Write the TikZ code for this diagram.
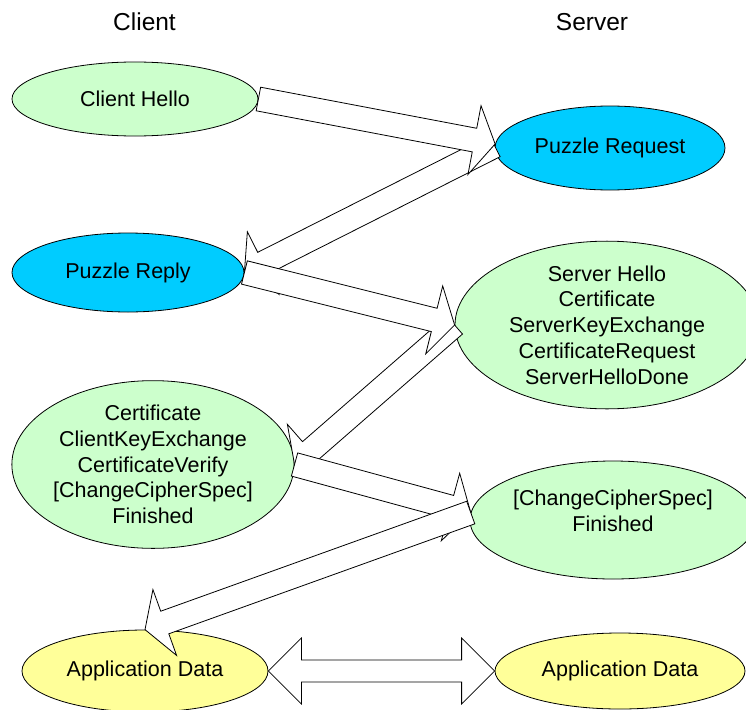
\documentclass[tikz,border=0pt]{standalone}
\usepackage{fontspec}
\setmainfont{Liberation Sans}
\usetikzlibrary{shapes.geometric,calc}

\definecolor{mint}{HTML}{CCFFCC}
\definecolor{sky}{HTML}{00CCFF}
\definecolor{cream}{HTML}{FFFF99}

\tikzset{
  msg/.style={ellipse, draw=black, line width=0.8pt, inner sep=0pt, align=center,
              font=\fontsize{21.5}{25.7}\selectfont},
  greenmsg/.style={msg, fill=mint},
  bluemsg/.style={msg, fill=sky},
  yellowmsg/.style={msg, fill=cream},
  msgtext/.style={align=center, inner sep=0pt, font=\fontsize{21.5}{25.7}\selectfont},
  party/.style={inner sep=0pt, font=\fontsize{24.5}{29}\selectfont},
  fat/.style={draw=black, fill=white, line width=0.8pt, line join=miter}
}

% hollow block arrow: #1 tail, #2 tip, #3 half shaft width, #4 half head width, #5 head length
\newcommand\flowarrow[5]{%
  \coordinate (fb) at ($(#2)!#5!(#1)$);
  \path[fat] ($(#1)!#3!90:(#2)$) -- ($(fb)!#3!-90:(#1)$) -- ($(fb)!#4!-90:(#1)$)
    -- (#2) -- ($(fb)!#4!90:(#1)$) -- ($(fb)!#3!90:(#1)$) -- ($(#1)!#3!-90:(#2)$) -- cycle;
}

\begin{document}
\begin{tikzpicture}[x=1pt,y=-1pt]
  \fill[white] (0,0) rectangle (746,709);
  \clip (0,0) rectangle (746,709);

  % column headings
  \node[party] (client) at (144.5,22) {Client};
  \node[party] (server) at (592,22) {Server};

  % messages
  \node[greenmsg, minimum width=246pt, minimum height=74pt] (hello) at (135,99) {Client Hello};
  \node[bluemsg, minimum width=230pt, minimum height=84pt] (preq) at (610,148) {Puzzle Request};
  \node[bluemsg, minimum width=232pt, minimum height=79pt] (preply) at (128,272.5) {Puzzle Reply};
  \node[greenmsg, minimum width=304pt, minimum height=150pt] (shello) at (607,325)
    {Server Hello\\Certificate\\ServerKeyExchange\\CertificateRequest\\ServerHelloDone};
  \node[greenmsg, minimum width=282pt, minimum height=153pt] (ccert) at (153,464.5)
    {Certificate\\ClientKeyExchange\\CertificateVerify\\{[}ChangeCipherSpec{]}\\Finished};
  \node[greenmsg, minimum width=286pt, minimum height=118pt] (ccs) at (613,520) {};
  \node[msgtext] (ccstext) at (613,511) {{[}ChangeCipherSpec{]}\\Finished};
  \node[yellowmsg, minimum width=246pt, minimum height=82pt] (appc) at (145,671) {Application Data};
  \node[yellowmsg, minimum width=250pt, minimum height=76pt] (apps) at (620,671) {Application Data};

  % handshake flow
  \flowarrow{preq.179}{preply.east}{12pt}{35pt}{21pt}
  \flowarrow{hello.east}{preq.178}{12pt}{35pt}{21pt}
  \flowarrow{shello.west}{ccert.east}{12pt}{35pt}{21pt}
  \flowarrow{preply.east}{shello.west}{12pt}{35pt}{21pt}
  \flowarrow{ccert.east}{ccs.177}{12pt}{35pt}{21pt}
  \flowarrow{ccs.177}{appc.north}{12pt}{35pt}{21pt}

  % two-way application data
  \coordinate (dl) at ($(appc.east)!33pt!(apps.west)$);
  \coordinate (dr) at ($(apps.west)!33pt!(appc.east)$);
  \path[fat] (appc.east) -- ($(dl)!33pt!90:(apps.west)$) -- ($(dl)!11pt!90:(apps.west)$)
    -- ($(dr)!11pt!-90:(appc.east)$) -- ($(dr)!33pt!-90:(appc.east)$) -- (apps.west)
    -- ($(dr)!33pt!90:(appc.east)$) -- ($(dr)!11pt!90:(appc.east)$)
    -- ($(dl)!11pt!-90:(apps.west)$) -- ($(dl)!33pt!-90:(apps.west)$) -- cycle;
\end{tikzpicture}
\end{document}
